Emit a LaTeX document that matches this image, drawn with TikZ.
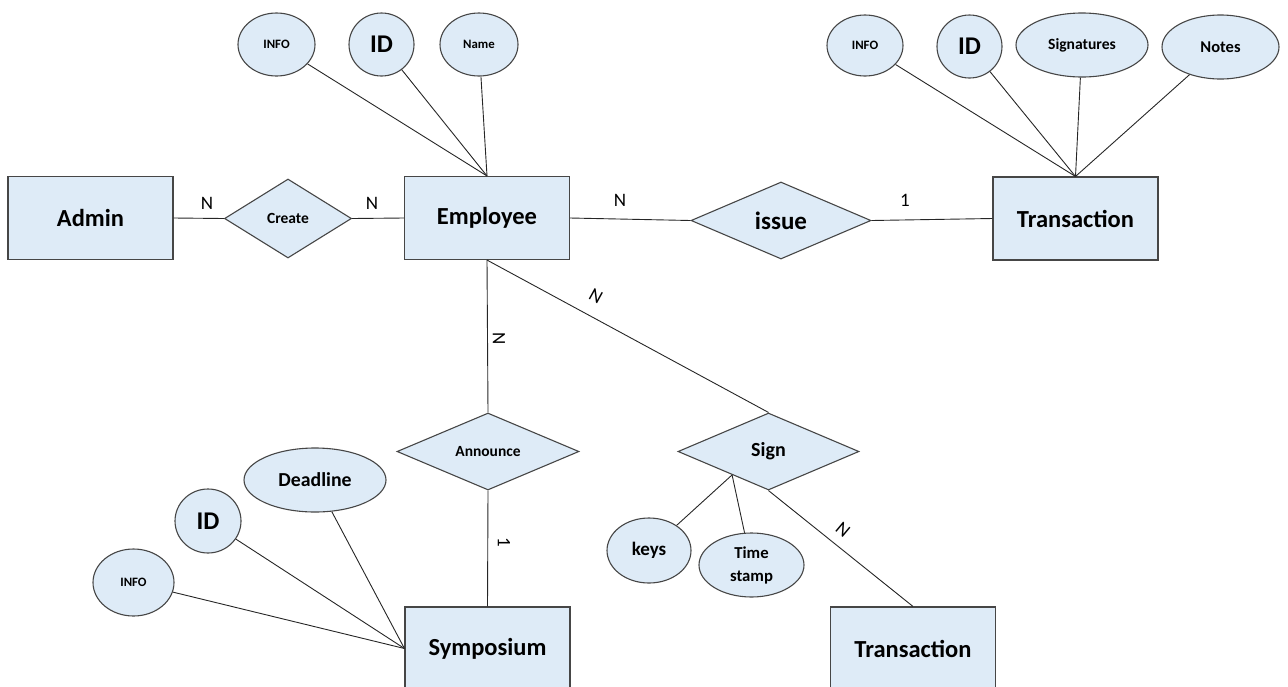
\documentclass[tikz,border=0pt]{standalone}
\usepackage{fontspec}
\setmainfont{Carlito}
\usetikzlibrary{shapes.geometric,calc}
\definecolor{boxfill}{RGB}{222,235,247}
\definecolor{boxline}{RGB}{70,70,70}
\begin{document}
\begin{tikzpicture}[x=1pt,y=-1pt,
  entity/.style={draw=boxline,fill=boxfill,line width=1.1pt,rectangle,
    minimum width=165pt,minimum height=83pt,inner sep=0pt,
    font=\bfseries\fontsize{24.5}{28}\selectfont},
  relation/.style={draw=boxline,fill=boxfill,line width=1.1pt,diamond,
    inner sep=0pt,font=\bfseries\fontsize{15.5}{18}\selectfont},
  attr/.style={draw=boxline,fill=boxfill,line width=1.1pt,ellipse,
    inner sep=0pt,font=\bfseries\fontsize{12.8}{15}\selectfont},
  idattr/.style={attr,font=\bfseries\fontsize{25.5}{28}\selectfont},
  conn/.style={draw=black!85,line width=0.9pt},
  card/.style={font=\fontsize{19}{21}\selectfont,inner sep=0pt}]
\useasboundingbox (0,0) rectangle (1288,686);
\clip (0,0) rectangle (1288,686);

% entities
\node[entity] (admin) at (90.5,218) {Admin};
\node[entity] (emp) at (487,218) {Employee};
\node[entity] (trans) at (1075.5,218.5) {Transaction};
\node[entity] (sym) at (487.5,648.5) {Symposium};
\node[entity] (trans2) at (913,648.5) {Transaction};

% relationships
\node[relation,minimum width=127pt,minimum height=79pt] (create) at (288,218.5) {Create};
\node[relation,minimum width=180pt,minimum height=77pt,
  font=\bfseries\fontsize{25}{28}\selectfont] (issue) at (781,220.5) {issue};
\node[relation,minimum width=182pt,minimum height=77pt] (ann) at (488,451.5) {Announce};
\node[relation,minimum width=181pt,minimum height=77pt,
  font=\bfseries\fontsize{20}{23}\selectfont] (sign) at (768.5,451.5) {Sign};

% employee attributes
\node[attr,minimum width=77pt,minimum height=63pt] (einfo) at (276.5,44.5) {INFO};
\node[idattr,minimum width=65pt,minimum height=63pt] (eid) at (381.5,44.5) {ID};
\node[attr,minimum width=78pt,minimum height=63pt] (ename) at (479,44.5) {Name};

% transaction attributes
\node[attr,minimum width=76pt,minimum height=61pt] (tinfo) at (865,45.5) {INFO};
\node[idattr,minimum width=65pt,minimum height=63pt] (tid) at (969.5,46.5) {ID};
\node[attr,minimum width=132pt,minimum height=64pt,
  font=\bfseries\fontsize{15.6}{18}\selectfont] (tsig) at (1082,45) {Signatures};
\node[attr,minimum width=117pt,minimum height=64pt,
  font=\bfseries\fontsize{16.5}{19}\selectfont] (tnotes) at (1220.5,47) {Notes};

% symposium attributes
\node[attr,minimum width=142pt,minimum height=64pt,
  font=\bfseries\fontsize{19.8}{23}\selectfont] (sdead) at (315,480) {Deadline};
\node[idattr,minimum width=66pt,minimum height=64pt] (sid) at (208,521) {ID};
\node[attr,minimum width=81pt,minimum height=67pt] (sinfo) at (133.5,582.5) {INFO};

% sign attributes
\node[attr,minimum width=84pt,minimum height=65pt,
  font=\bfseries\fontsize{19}{22}\selectfont] (keys) at (649,550.5) {keys};
\node[attr,minimum width=105pt,minimum height=64pt,align=center,
  font=\bfseries\fontsize{16.7}{23}\selectfont] (tstamp) at (751.5,565) {Time\\stamp};
\coordinate (signfoot) at ($(sign.west)!0.6!(sign.south)$);

% relationship connectors
\draw[conn] (admin.east) -- (create.west);
\draw[conn] (create.east) -- (emp.west);
\draw[conn] (emp.east) -- (issue.west);
\draw[conn] (issue.east) -- (trans.west);
\draw[conn] (emp.south) -- (ann.north);
\draw[conn] (ann.south) -- (sym.north);
\draw[conn] (emp.south) -- (sign.north);
\draw[conn] (sign.south) -- (trans2.north);

% attribute connectors
\foreach \a in {einfo,eid,ename} \draw[conn] (\a) -- (emp.north);
\foreach \a in {tinfo,tid,tsig,tnotes} \draw[conn] (\a) -- (trans.north);
\foreach \a in {sdead,sid,sinfo} \draw[conn] (\a) -- (sym.west);
\draw[conn] (signfoot) -- (keys);
\draw[conn] (signfoot) -- (tstamp);

% cardinalities
\node[card] (c1) at (207,203) {N};
\node[card] (c2) at (372,203) {N};
\node[card] (c3) at (620,200) {N};
\node[card] (c4) at (905,200) {1};
\node[card,rotate=-29] (c5) at (596,296) {N};
\node[card,rotate=-90] (c6) at (499,339) {N};
\node[card,rotate=-90] (c7) at (504,542) {1};
\node[card,rotate=-40] (c8) at (843,530) {N};
\end{tikzpicture}
\end{document}
